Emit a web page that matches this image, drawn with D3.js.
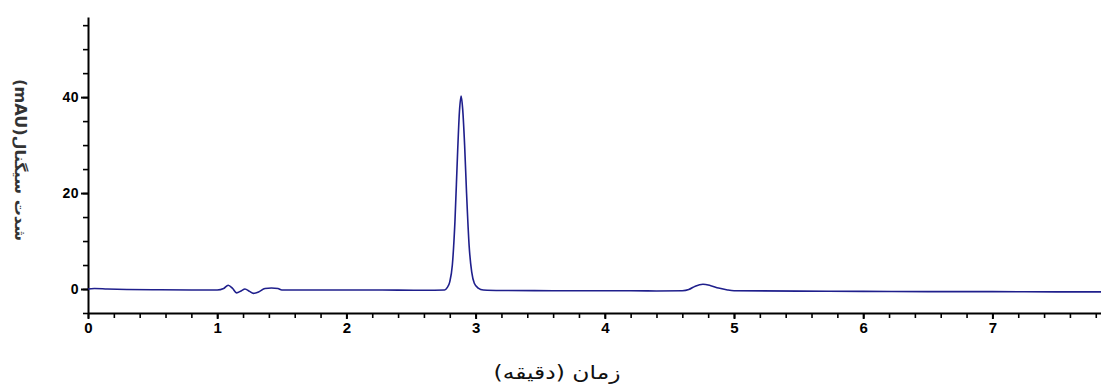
<!DOCTYPE html>
<html>
<head>
<meta charset="utf-8">
<script src="https://cdn.jsdelivr.net/npm/d3@7"></script>
<style>
  body { margin: 0; background: #fff; }
  .tick text { font-family: "Liberation Sans", Arial, sans-serif; font-weight: bold; }
</style>
</head>
<body>
<div class="canvas"></div>
<script>
// chromatogram (time in min, signal in mAU)
const times = [0, 0.05, 0.15, 0.3, 0.5, 0.8, 1.0,
  1.05, 1.085, 1.12, 1.15, 1.185, 1.215, 1.25, 1.28, 1.32, 1.37, 1.42, 1.47, 1.5,
  1.8, 2.2, 2.6,
  2.76, 2.78, 2.80, 2.82, 2.84, 2.86, 2.875, 2.888, 2.90, 2.915, 2.93, 2.95, 2.97, 2.99, 3.02, 3.06,
  3.2, 3.6, 4.0, 4.4, 4.6,
  4.65, 4.7, 4.76, 4.82, 4.88, 4.95, 5.0,
  5.5, 6.0, 6.5, 7.0, 7.5, 8.0];
const signal = [0, 0.1, 0, -0.1, -0.15, -0.2, -0.2,
  0.1, 0.8, 0.1, -0.8, -0.4, 0, -0.5, -0.9, -0.6, 0.1, 0.2, 0.1, -0.2,
  -0.2, -0.2, -0.25,
  -0.2, 0.3, 1.5, 5, 14, 28, 37, 40.2, 37.5, 30, 20, 9, 3.5, 1.2, 0.2, -0.2,
  -0.3, -0.35, -0.35, -0.4, -0.35,
  -0.1, 0.6, 1.0, 0.7, 0.2, -0.2, -0.35,
  -0.45, -0.5, -0.55, -0.55, -0.6, -0.6];

const xMajor = [0, 1, 2, 3, 4, 5, 6, 7, 8];
const xMinor = d3.range(0, 8.01, 0.2);
const yMajor = [0, 20, 40];
const yMinor = d3.range(-5, 56, 5);

const xTitle = "زمان (دقیقه)";
const yTitle = "شدت سیگنال(mAU)";

const width = 1101, height = 387;

const x = d3.scaleLinear().domain([0, 8]).range([88, 1121.6]);
const y = d3.scaleLinear().domain([-5, 56.7]).range([313, 17]);

const svg = d3.select('.canvas')
  .append('svg')
  .attr('width', width)
  .attr('height', height)
  .style('background', '#fff')

// minor ticks first, then the major axes on top
svg.append('g')
  .attr('transform', 'translate(0,313)')
  .call(d3.axisBottom(x).tickValues(xMinor).tickSize(5).tickSizeOuter(0).tickFormat(''))
  .call(g => g.select('.domain').remove())
  .selectAll('line').attr('stroke-width', 1.6)

svg.append('g')
  .attr('transform', 'translate(88,0)')
  .call(d3.axisLeft(y).tickValues(yMinor).tickSize(5).tickSizeOuter(0).tickFormat(''))
  .call(g => g.select('.domain').remove())
  .selectAll('line').attr('stroke-width', 1.6)

const xAxis = svg.append('g')
  .attr('transform', 'translate(0,313)')
  .call(d3.axisBottom(x).tickValues(xMajor).tickSize(6).tickPadding(3).tickSizeOuter(0))
xAxis.selectAll('text').attr('font-size', 15).attr('fill', '#000')
xAxis.selectAll('line').attr('stroke-width', 2)
xAxis.select('.domain').attr('stroke-width', 2)

const yAxis = svg.append('g')
  .attr('transform', 'translate(88,0)')
  .call(d3.axisLeft(y).tickValues(yMajor).tickSize(7).tickPadding(2).tickSizeOuter(0))
yAxis.selectAll('text').attr('font-size', 14).attr('letter-spacing', 0.5).attr('fill', '#000')
yAxis.selectAll('line').attr('stroke-width', 2)
yAxis.select('.domain').attr('stroke-width', 2)

const line = d3.line()
  .x((d, i) => x(times[i]))
  .y(d => y(d))
  .curve(d3.curveMonotoneX)

svg.append('path')
  .datum(signal)
  .attr('fill', 'none')
  .attr('stroke', '#1f1f8c')
  .attr('stroke-width', 1.6)
  .attr('d', line)

svg.append('text')
  .attr('x', 557)
  .attr('y', 379)
  .attr('text-anchor', 'middle')
  .attr('direction', 'rtl')
  .attr('font-family', '"DejaVu Sans", sans-serif')
  .attr('font-size', 19)
  .attr('textLength', 127)
  .attr('lengthAdjust', 'spacingAndGlyphs')
  .attr('fill', '#111')
  .text(xTitle)

svg.append('text')
  .attr('transform', 'translate(15,160) rotate(90)')
  .attr('text-anchor', 'middle')
  .attr('direction', 'rtl')
  .attr('font-family', '"DejaVu Sans", sans-serif')
  .attr('font-size', 15)
  .attr('font-weight', 'bold')
  .attr('textLength', 162)
  .attr('lengthAdjust', 'spacingAndGlyphs')
  .attr('fill', '#333')
  .text(yTitle)
</script>
</body>
</html>
